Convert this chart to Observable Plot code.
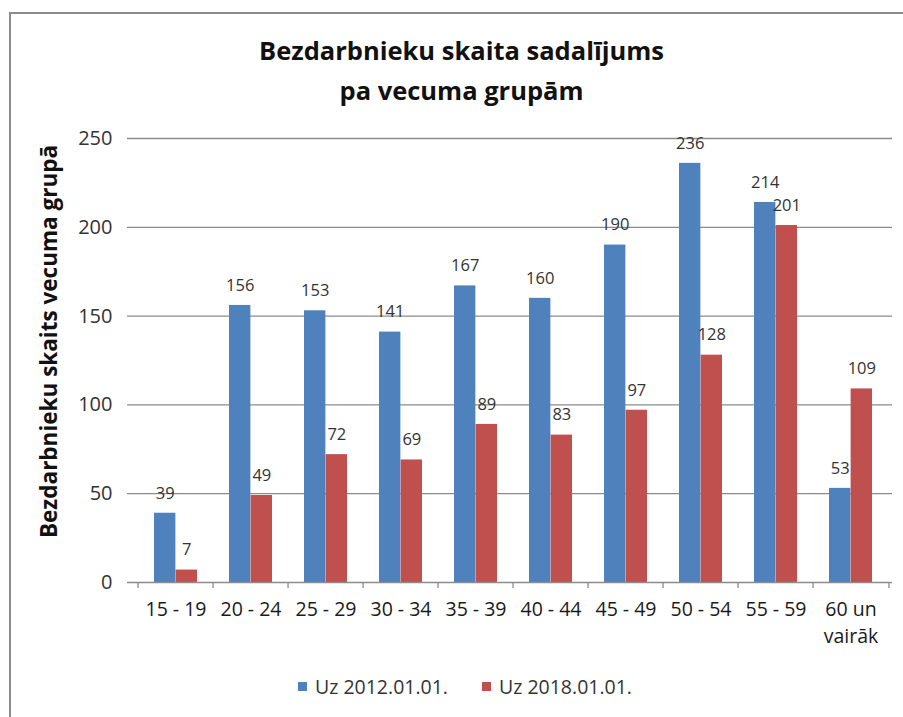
<!DOCTYPE html>
<html>
<head>
<meta charset="utf-8">
<script src="https://cdn.jsdelivr.net/npm/d3@7"></script>
<script src="https://cdn.jsdelivr.net/npm/@observablehq/plot@0.6"></script>
<style>
  html, body { margin: 0; padding: 0; background: #fff; }
  #wrap { position: relative; width: 903px; height: 717px; overflow: hidden; font-family: "Open Sans", sans-serif; color: #1a1a1a; }
  #frame { position: absolute; left: 9px; top: 12px; width: 1000px; height: 1000px; border: 2px solid #8c8c8c; box-sizing: border-box; }
  #title { position: absolute; left: 10px; top: 30px; width: 903px; text-align: center; font-weight: bold; font-size: 25.5px; line-height: 40px; color: #111; }
  #chart { position: absolute; left: 0; top: 120px; }
  #legend { position: absolute; left: 0; top: 673px; width: 903px; height: 28px; font-size: 19.5px; color: #333; }
  .item { position: absolute; top: 0; display: flex; align-items: center; white-space: nowrap; }
  .sw { width: 9px; height: 9px; margin-right: 8px; }
</style>
</head>
<body>
<div id="wrap">
  <div id="frame"></div>
  <div id="title">Bezdarbnieku skaita sadalījums<br>pa vecuma grupām</div>
  <div id="chart"></div>
  <div id="legend"></div>
</div>
<script>
const categories = ["15 - 19", "20 - 24", "25 - 29", "30 - 34", "35 - 39", "40 - 44", "45 - 49", "50 - 54", "55 - 59", "60 un\nvairāk"];
const series = ["Uz 2012.01.01.", "Uz 2018.01.01."];
const values2012 = [39, 156, 153, 141, 167, 160, 190, 236, 214, 53];
const values2018 = [7, 49, 72, 69, 89, 83, 97, 128, 201, 109];
const yTicks = [0, 50, 100, 150, 200, 250];
const yLabel = "Bezdarbnieku skaits vecuma grupā";
const colors = ["#4F81BD", "#C0504D"];

const data = [];
categories.forEach((c, i) => {
  data.push({cat: c, series: series[0], value: values2012[i]});
  data.push({cat: c, series: series[1], value: values2018[i]});
});

const W = 903, H = 540;
const mL = 133, mR = 11, mT = 18, mB = 78;
const pInner = 0.43, pOuter = 0.215;
const step = (W - mL - mR) / (categories.length - pInner + 2 * pOuter);
const bw = step * (1 - pInner);
const half = bw / 2;
const axisColor = "#8c8c8c";

const plot = Plot.plot({
  width: W, height: H,
  marginLeft: mL, marginRight: mR, marginTop: mT, marginBottom: mB,
  x: {type: "band", domain: categories, paddingInner: pInner, paddingOuter: pOuter, axis: null},
  y: {domain: [0, 250], axis: null},
  color: {domain: series, range: colors},
  style: {fontFamily: "Open Sans, sans-serif", background: "transparent", overflow: "visible"},
  marks: [
    Plot.ruleY(yTicks.filter(d => d > 0), {y: d => d, stroke: axisColor, strokeWidth: 1.3, insetLeft: -6}),
    Plot.barY(data.filter(d => d.series === series[0]), {x: "cat", y: "value", fill: d => d.series, insetRight: half}),
    Plot.barY(data.filter(d => d.series === series[1]), {x: "cat", y: "value", fill: d => d.series, insetLeft: half}),
    Plot.ruleY([0], {stroke: axisColor, strokeWidth: 1.3, insetLeft: -6}),
    Plot.ruleX([0], {x: () => 0, frameAnchor: "left", stroke: axisColor, strokeWidth: 1.3}),
    Plot.ruleX(categories, {x: d => d, y1: 0, y2: 0, dx: -step / 2, insetBottom: -6, stroke: axisColor, strokeWidth: 1.3}),
    Plot.ruleX(categories.slice(-1), {x: d => d, y1: 0, y2: 0, dx: step / 2, insetBottom: -6, stroke: axisColor, strokeWidth: 1.3}),
    Plot.text(data.filter(d => d.series === series[0]), {x: "cat", y: "value", text: d => String(d.value), dx: -half / 2, dy: -20, fontSize: 16.5, fill: "#333"}),
    Plot.text(data.filter(d => d.series === series[1]), {x: "cat", y: "value", text: d => String(d.value), dx: half / 2, dy: -20, fontSize: 16.5, fill: "#333"}),
    Plot.text(yTicks, {y: d => d, frameAnchor: "left", text: d => String(d), textAnchor: "end", dx: -21, fontSize: 20, fill: "#333"}),
    Plot.text(categories, {x: d => d, y: () => 0, text: d => d, dy: 14, lineAnchor: "top", lineHeight: 1.4, fontSize: 19.5, fill: "#1a1a1a"}),
    Plot.text([yLabel], {frameAnchor: "left", text: d => d, rotate: -90, textAnchor: "middle", dx: -84, dy: -19, fontSize: 22.5, fontWeight: "bold", fill: "#111"})
  ]
});
document.getElementById("chart").appendChild(plot);

const legend = document.getElementById("legend");
const legendLeft = [298, 482];
series.forEach((s, i) => {
  const item = document.createElement("div");
  item.className = "item";
  item.style.left = legendLeft[i] + "px";
  const sw = document.createElement("div");
  sw.className = "sw";
  sw.style.background = colors[i];
  const t = document.createElement("span");
  t.textContent = s;
  item.appendChild(sw); item.appendChild(t);
  legend.appendChild(item);
});
</script>
</body>
</html>
